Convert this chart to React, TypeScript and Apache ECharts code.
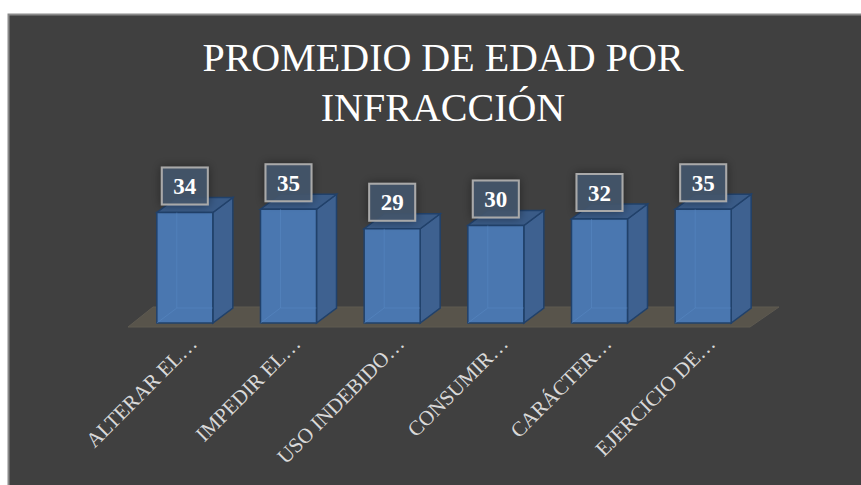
import React, { useEffect, useRef } from "react";
import * as echarts from "echarts";

const categories = [
  "ALTERAR EL…",
  "IMPEDIR EL…",
  "USO INDEBIDO…",
  "CONSUMIR…",
  "CARÁCTER…",
  "EJERCICIO DE…",
];
const values = [34, 35, 29, 30, 32, 35];
const titleText = "PROMEDIO DE EDAD POR\nINFRACCIÓN";

const SERIF = "'Liberation Serif', 'DejaVu Serif', serif";

export default function App() {
  const ref = useRef<HTMLDivElement>(null);
  useEffect(() => {
    if (!ref.current) return;
    const chart = echarts.init(ref.current, undefined, { renderer: "svg" });
    const DX = 20;
    const DY = 15;
    chart.setOption({
      animation: false,
      backgroundColor: "#ffffff",
      graphic: [
        {
          type: "rect",
          z: -10,
          silent: true,
          shape: { x: 8.5, y: 14.5, width: 880, height: 500 },
          style: { fill: "#404040", stroke: "#8a8a8a", lineWidth: 2 },
        },
        {
          type: "text",
          x: 443,
          y: 32,
          z: 5,
          style: {
            text: titleText,
            font: `normal 40px ${SERIF}`,
            fill: "#ffffff",
            align: "center",
            lineHeight: 50,
          },
        },
      ],
      grid: [
        { left: 133, right: 106, top: 193, bottom: 162 },
        { left: 141.5, right: 97.5, top: 193, bottom: 162 },
      ],
      xAxis: [
        {
          type: "category",
          gridIndex: 0,
          data: categories,
          axisLine: { show: false },
          axisTick: { show: false },
          axisLabel: { show: false },
          splitLine: { show: false },
        },
        {
          type: "category",
          gridIndex: 1,
          data: categories,
          axisLine: { show: false },
          axisTick: { show: false },
          splitLine: { show: false },
          axisLabel: {
            rotate: 45,
            margin: 17,
            color: "#d9d9d9",
            fontFamily: SERIF,
            fontSize: 21,
            interval: 0,
          },
        },
      ],
      yAxis: [
        { type: "value", gridIndex: 0, min: 0, max: 40, show: false },
        { type: "value", gridIndex: 1, min: 0, max: 40, show: false },
      ],
      series: [
        {
          type: "custom",
          z: 1,
          xAxisIndex: 0,
          yAxisIndex: 0,
          data: [[0, 0]],
          renderItem: (params: any, api: any) => {
            const cs = params.coordSys;
            const base = cs.y + cs.height;
            const fx0 = cs.x - 5;
            const fx1 = cs.x + cs.width - 5;
            const fy = base + 4;
            return {
              type: "polygon",
              shape: {
                points: [
                  [fx0, fy],
                  [fx1, fy],
                  [fx1 + 29, fy - 20],
                  [fx0 + 25, fy - 20],
                ],
              },
              style: { fill: "#58544b", stroke: "#5e5a51", lineWidth: 1 },
            };
          },
        },
        {
          type: "custom",
          z: 2,
          xAxisIndex: 0,
          yAxisIndex: 0,
          data: values.map((v, i) => [i, v]),
          renderItem: (params: any, api: any) => {
            const idx = api.value(0);
            const v = api.value(1);
            const top = api.coord([idx, v]);
            const base = api.coord([idx, 0]);
            const bw = api.size([1, 0])[0] * 0.54;
            const x0 = top[0] - bw / 2;
            const x1 = top[0] + bw / 2;
            const yt = top[1];
            const yb = base[1];
            const edge = "#21416a";
            return {
              type: "group",
              children: [
                {
                  type: "polygon",
                  shape: {
                    points: [
                      [x1, yt],
                      [x1 + DX, yt - DY],
                      [x1 + DX, yb - DY],
                      [x1, yb],
                    ],
                  },
                  style: { fill: "#3e6190", stroke: edge, lineWidth: 1.5 },
                },
                {
                  type: "polygon",
                  shape: {
                    points: [
                      [x0, yt],
                      [x1, yt],
                      [x1 + DX, yt - DY],
                      [x0 + DX, yt - DY],
                    ],
                  },
                  style: { fill: "#3a5b87", stroke: edge, lineWidth: 1.5 },
                },
                {
                  type: "rect",
                  shape: { x: x0, y: yt, width: bw, height: yb - yt },
                  style: { fill: "#4a77b0", stroke: edge, lineWidth: 1.5 },
                },
                {
                  type: "polyline",
                  shape: {
                    points: [
                      [x0 + DX, yt],
                      [x0 + DX, yb - DY],
                      [x1, yb - DY],
                    ],
                  },
                  style: { fill: null, stroke: "rgba(90,140,200,0.45)", lineWidth: 1 },
                },
                {
                  type: "line",
                  shape: { x1: x0, y1: yb, x2: x0 + DX, y2: yb - DY },
                  style: { stroke: "rgba(90,140,200,0.45)", lineWidth: 1 },
                },
                {
                  type: "rect",
                  shape: { x: top[0] - 23, y: yt - 45, width: 46, height: 37 },
                  style: {
                    fill: "rgba(70,86,108,0.88)",
                    stroke: "#a9a9a9",
                    lineWidth: 2,
                    shadowBlur: 10,
                    shadowColor: "rgba(0,0,0,0.45)",
                  },
                },
                {
                  type: "text",
                  x: top[0],
                  y: yt - 26,
                  style: {
                    text: String(v),
                    font: `bold 23px ${SERIF}`,
                    fill: "#ffffff",
                    align: "center",
                    verticalAlign: "middle",
                  },
                },
              ],
            };
          },
        },
      ],
    });
    return () => chart.dispose();
  }, []);
  return (
    <div
      ref={ref}
      style={{ position: "absolute", left: 0, top: 0, width: 861, height: 485 }}
    />
  );
}
